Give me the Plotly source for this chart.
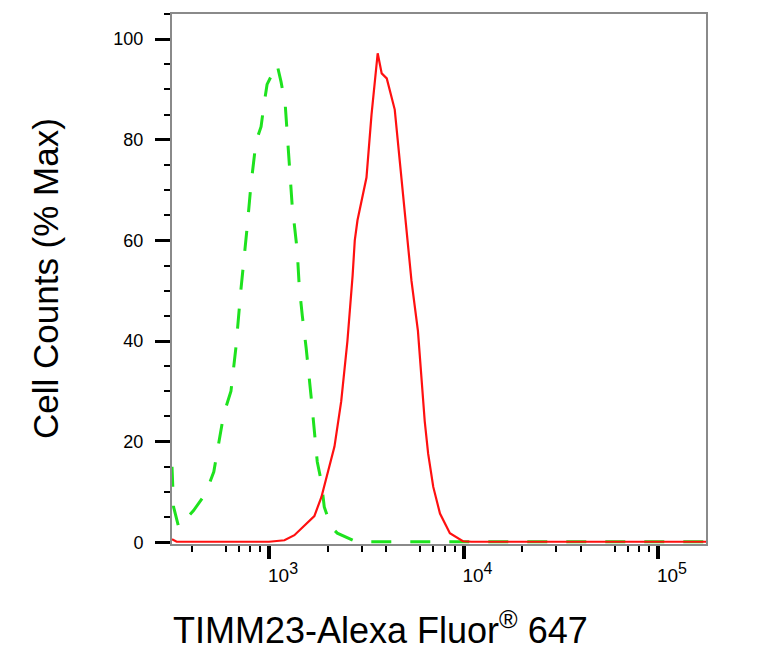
import plotly.graph_objects as go

# Fluorescence intensity (x) and cell counts (% max)
green_intensity = [317, 323, 343, 409, 472, 520, 585, 637, 675, 716, 769, 807, 857, 910,
                   942, 977, 1099, 1153, 1211, 1253, 1315, 1396, 1429, 1483, 1552, 1648,
                   1710, 1770, 1858, 1923, 2089, 2244, 2818, 180000]
green_counts = [15, 7, 3, 6.3, 9.7, 14, 25.5, 30, 38.6, 50, 62, 71, 79.6, 82.6,
                87, 91, 95, 91.5, 87, 78, 67, 58, 51, 45, 38.6, 28.7,
                21.6, 16, 12, 7, 3, 1.8, 0.1, 0.1]

red_intensity = [317, 335, 1000, 1200, 1350, 1520, 1710, 1860, 2000, 2170, 2350, 2530,
                 2690, 2760, 2850, 3170, 3365, 3620, 3796, 4030, 4430, 4700, 5110, 5400,
                 5830, 6080, 6320, 6580, 6990, 7570, 8510, 9930, 11000, 180000]
red_counts = [0.6, 0.1, 0.1, 0.4, 1.4, 3.4, 5.2, 9, 13.5, 19, 28, 40,
              53, 60, 64, 72.5, 85, 97.2, 93.2, 92.2, 86, 76, 62, 52,
              42, 32, 24, 17.6, 11, 5.7, 1.8, 0.2, 0.1, 0.1]

x_major = [1e3, 1e4, 1e5]
x_major_text = ["10<sup><span style='font-size:16px'>3</span></sup>",
                "10<sup><span style='font-size:16px'>4</span></sup>",
                "10<sup><span style='font-size:16px'>5</span></sup>"]
x_mid = [5e2, 5e3, 5e4]
x_minor = [k * 10 ** n for n in (2, 3, 4, 5) for k in (2, 3, 4, 6, 7, 8, 9)]
y_major = [0, 20, 40, 60, 80, 100]

x_title = "TIMM23-Alexa Fluor<sup>®</sup> 647"
y_title = "Cell Counts (% Max)"

FONT = "Liberation Sans, Arial, sans-serif"
AXIS_GRAY = "#8a8a8a"

fig = go.Figure()
fig.add_trace(go.Scatter(x=green_intensity, y=green_counts, mode="lines",
                         line=dict(color="#1ee21e", width=3, dash="20px,19px"),
                         showlegend=False, hoverinfo="skip"))
fig.add_trace(go.Scatter(x=red_intensity, y=red_counts, mode="lines",
                         line=dict(color="#ff1010", width=2.2),
                         showlegend=False, hoverinfo="skip"))

fig.update_layout(
    width=751, height=660,
    margin=dict(l=164, r=53, t=4, b=124),
    paper_bgcolor="white", plot_bgcolor="white",
    font=dict(family=FONT, color="black"),
    xaxis=dict(
        type="log", range=[2.501, 5.247], showgrid=False, zeroline=False,
        showline=True, linecolor=AXIS_GRAY, linewidth=2, mirror=True,
        tickmode="array", tickvals=x_major, ticktext=x_major_text,
        ticks="outside", ticklen=13, tickwidth=4, tickcolor="black",
        tickfont=dict(size=19, family=FONT), ticklabelshift=14,
        minor=dict(tickmode="array", tickvals=x_minor, ticks="outside",
                   ticklen=6, tickwidth=2, tickcolor="black", showgrid=False),
    ),
    xaxis2=dict(
        type="log", range=[2.501, 5.247], overlaying="x", anchor="y", side="bottom",
        showgrid=False, zeroline=False, showline=False, showticklabels=False,
        tickmode="array", tickvals=x_mid, ticks="outside", ticklen=10,
        tickwidth=2.5, tickcolor="black",
    ),
    yaxis=dict(
        range=[-0.35, 105], showgrid=False, zeroline=False,
        showline=True, linecolor=AXIS_GRAY, linewidth=2, mirror=True,
        tickmode="array", tickvals=y_major,
        ticks="outside", ticklen=15, tickwidth=3, tickcolor="black",
        tickfont=dict(size=18, family=FONT), ticklabelstandoff=8,
        minor=dict(dtick=5, ticks="outside", ticklen=6, tickwidth=2,
                   tickcolor="black", showgrid=False),
    ),
    annotations=[
        dict(text=x_title, xref="paper", yref="paper", x=0.3904, y=-0.158,
             xanchor="center", yanchor="middle", showarrow=False,
             font=dict(size=36, family=FONT, color="black")),
        dict(text=y_title, xref="paper", yref="paper", x=-0.2378, y=0.5,
             xanchor="center", yanchor="middle", textangle=-90, showarrow=False,
             font=dict(size=35, family=FONT, color="black")),
    ],
)

fig.write_html("out.html")
